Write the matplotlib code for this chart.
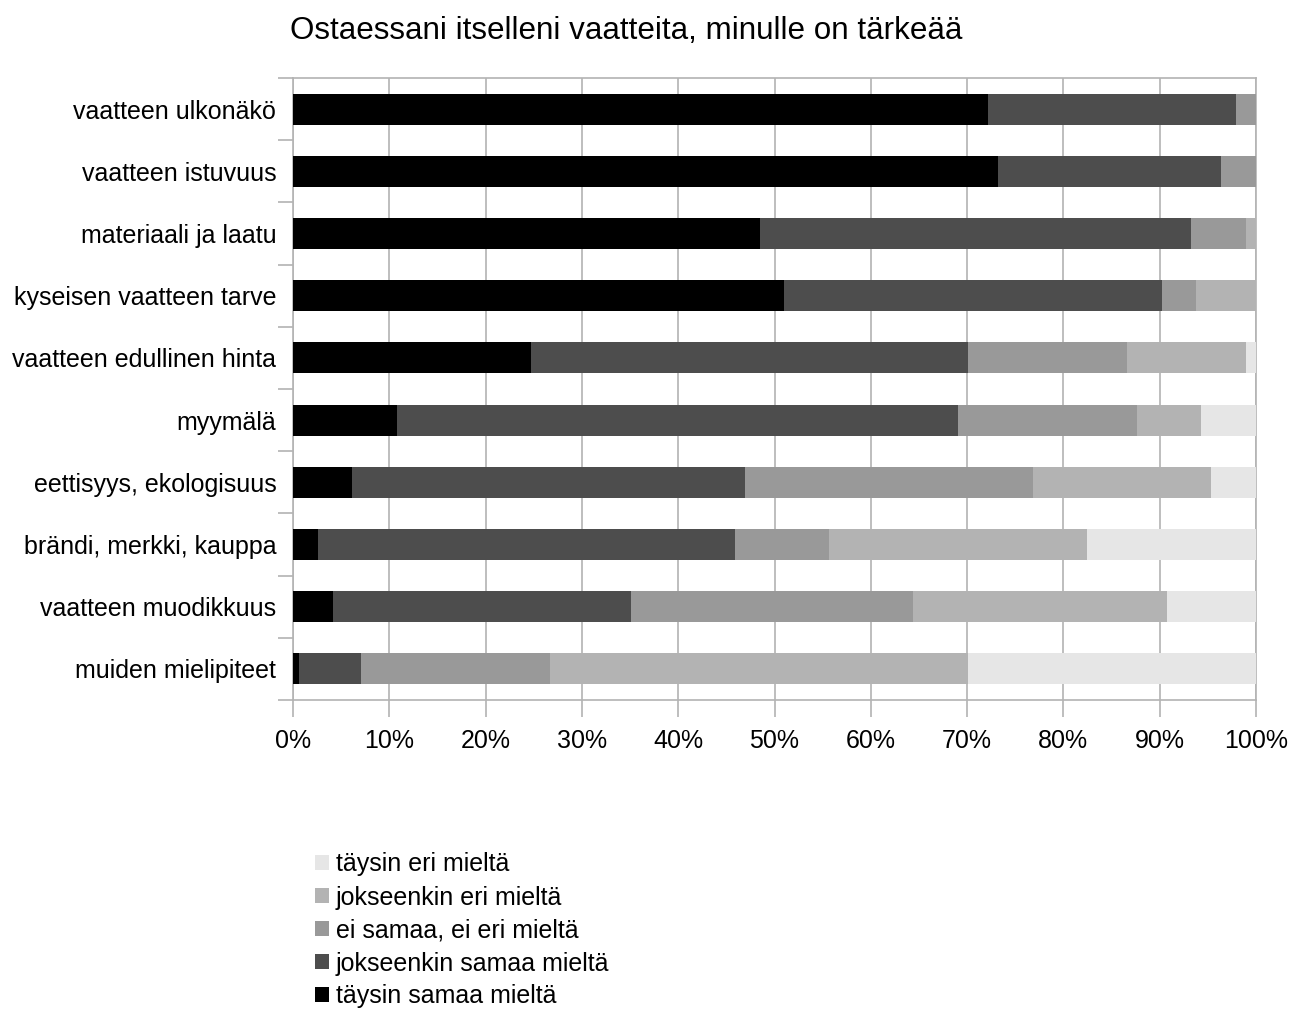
import matplotlib.pyplot as plt
import numpy as np
from matplotlib.ticker import FixedLocator, PercentFormatter

plt.rcParams["font.family"] = ["Liberation Sans", "DejaVu Sans"]

categories = [
    "vaatteen ulkonäkö",
    "vaatteen istuvuus",
    "materiaali ja laatu",
    "kyseisen vaatteen tarve",
    "vaatteen edullinen hinta",
    "myymälä",
    "eettisyys, ekologisuus",
    "brändi, merkki, kauppa",
    "vaatteen muodikkuus",
    "muiden mielipiteet",
]

# shares in percent, one list per answer option
taysin_samaa = [72.2, 73.2, 48.5, 51.0, 24.7, 10.8, 6.1, 2.6, 4.2, 0.6]
jokseenkin_samaa = [25.7, 23.2, 44.8, 39.2, 45.4, 58.3, 40.8, 43.3, 30.9, 6.5]
ei_samaa_ei_eri = [2.1, 3.6, 5.7, 3.6, 16.5, 18.5, 29.9, 9.8, 29.3, 19.6]
jokseenkin_eri = [0.0, 0.0, 1.0, 6.2, 12.4, 6.7, 18.5, 26.7, 26.4, 43.4]
taysin_eri = [0.0, 0.0, 0.0, 0.0, 1.0, 5.7, 4.7, 17.6, 9.2, 29.9]

series = [
    ("täysin samaa mieltä", taysin_samaa, "#000000"),
    ("jokseenkin samaa mieltä", jokseenkin_samaa, "#4d4d4d"),
    ("ei samaa, ei eri mieltä", ei_samaa_ei_eri, "#999999"),
    ("jokseenkin eri mieltä", jokseenkin_eri, "#b3b3b3"),
    ("täysin eri mieltä", taysin_eri, "#e6e6e6"),
]

fig = plt.figure(figsize=(13.04, 10.18), dpi=100)
ax = fig.add_axes([293 / 1304, 1 - 700 / 1018, 963 / 1304, 622 / 1018])

y = np.arange(len(categories))
left = np.zeros(len(categories))
handles = []
for name, vals, color in series:
    vals = np.array(vals)
    h = ax.barh(y, vals, left=left, height=0.5, color=color, label=name, zorder=3)
    handles.append(h)
    left += vals

ax.set_xlim(0, 100)
ax.set_ylim(len(categories) - 0.5, -0.5)

grid_col = "#b3b3b3"
ax.set_xticks(np.arange(0, 101, 10))
ax.xaxis.set_major_formatter(PercentFormatter(decimals=0))
ax.grid(axis="x", color=grid_col, linewidth=1.2, zorder=0)
ax.tick_params(axis="x", length=12, width=1.2, color=grid_col, labelsize=18, pad=9)

ax.set_yticks(y)
ax.set_yticklabels(categories)
ax.yaxis.set_minor_locator(FixedLocator(np.arange(-0.5, len(categories), 1)))
ax.tick_params(axis="y", which="major", length=0, labelsize=18, pad=12)
ax.tick_params(axis="y", which="minor", length=11, width=1.2, color=grid_col)

for s in ax.spines.values():
    s.set_color(grid_col)
    s.set_linewidth(1.2)

fig.text(626 / 1304, 1 - 31 / 1018, "Ostaessani itselleni vaatteita, minulle on tärkeää",
         ha="center", va="center", fontsize=22.6)

fig.legend(handles[::-1], [s[0] for s in series][::-1],
           loc="upper left", bbox_to_anchor=(302 / 1304, 1 - 840 / 1018),
           frameon=False, fontsize=18, handlelength=0.56, handleheight=0.56,
           handletextpad=0.3, labelspacing=0.36, borderpad=0)

fig.savefig("out.png", dpi=100)
